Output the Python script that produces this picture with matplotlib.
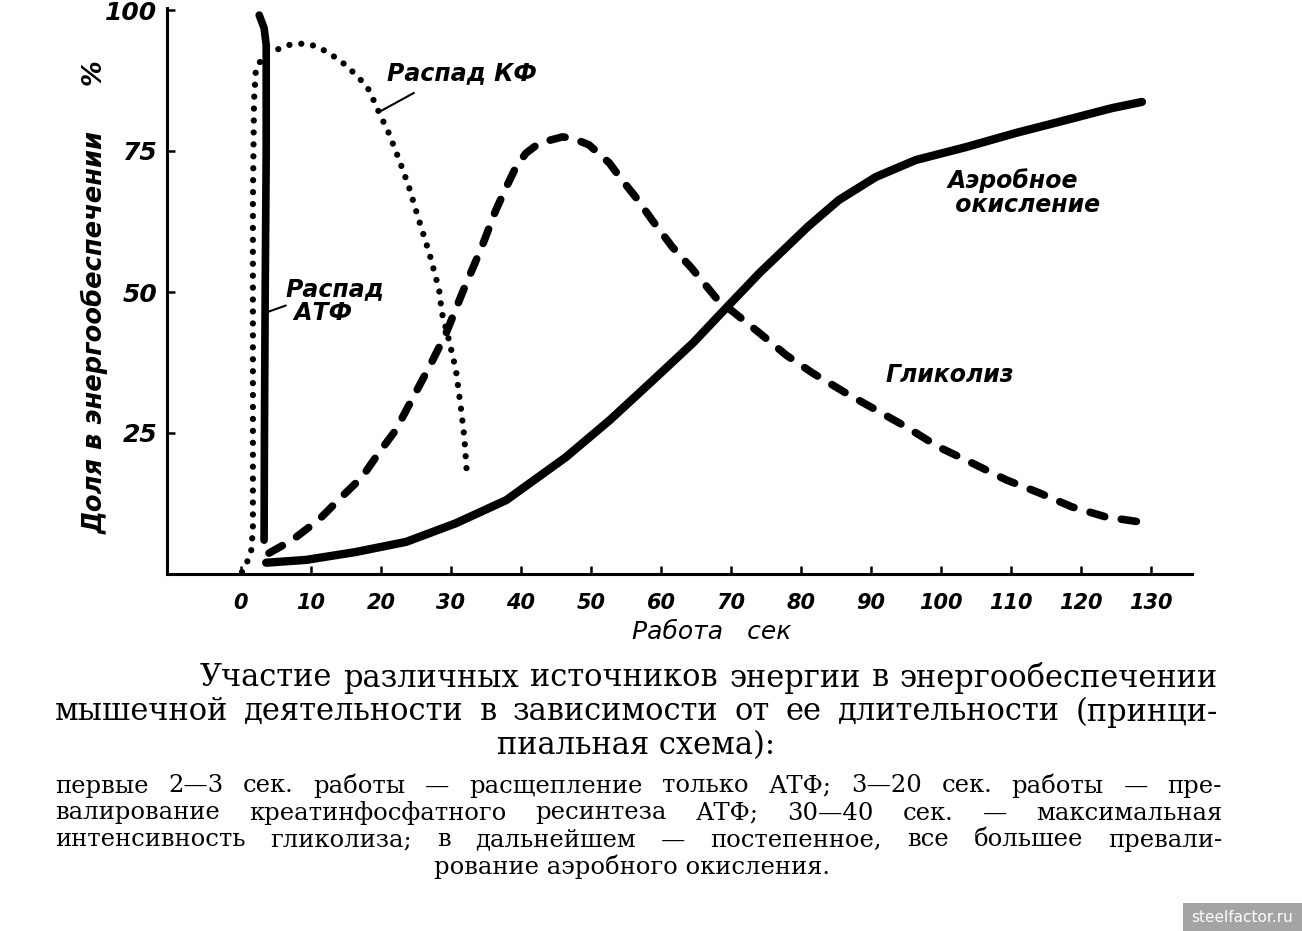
import matplotlib
matplotlib.use("Agg")
import matplotlib.pyplot as plt
from matplotlib.patches import Rectangle

plt.rcParams['font.family'] = ['DejaVu Sans']

# Axis ticks
time_ticks = list(range(0, 140, 10))
share_ticks = [25, 50, 75, 100]

# Распад АТФ (solid, thick, near-vertical)
atp_x = [2.6, 3.3, 3.6, 3.6, 3.45, 3.35, 3.3]
atp_y = [99.1, 96.8, 93.8, 75.2, 48.6, 25.0, 6.0]

# Распад КФ (dotted)
kf_x = [0.14, 0.86, 1.43, 1.7, 1.7, 1.7, 1.86, 2.14, 3.57, 5.0, 6.86, 9.29,
        11.1, 13.0, 15.0, 16.9, 18.3, 19.7, 21.1, 22.6, 24.0, 25.4, 26.9,
        28.3, 28.7, 29.7, 30.7, 31.4, 31.9, 32.3]
kf_y = [0.35, 2.1, 3.7, 7.8, 30.9, 66.3, 84.0, 89.7, 92.4, 92.9, 93.8, 94.1,
        93.4, 92.0, 90.2, 87.9, 85.8, 81.9, 78.2, 73.4, 68.6, 62.8, 56.9,
        50.4, 46.3, 41.5, 36.2, 29.6, 24.3, 17.2]

# Гликолиз (dashed)
glyc_x = [4.0, 7.3, 11.1, 14.4, 17.3, 19.7, 22.1, 24.4, 26.9, 29.3, 31.6,
          33.0, 34.4, 36.4, 37.9, 39.3, 40.7, 42.6, 45.9, 47.3, 49.7, 52.6,
          54.4, 56.4, 58.7, 61.6, 64.4, 68.1, 70.5, 74.1, 77.9, 81.7, 86.4,
          90.7, 95.0, 99.7, 104.4, 109.3, 114.0, 118.7, 123.6, 129.7]
glyc_y = [3.7, 6.0, 9.6, 13.7, 17.2, 21.5, 25.5, 30.9, 36.7, 42.7, 49.8,
          53.9, 58.0, 64.5, 68.6, 72.2, 74.6, 76.4, 77.5, 77.3, 76.1, 72.9,
          69.9, 66.8, 62.8, 58.0, 54.2, 48.6, 46.3, 42.7, 38.8, 35.6, 32.1,
          29.1, 26.1, 22.5, 19.7, 16.7, 14.4, 11.9, 10.1, 9.0]

# Аэробное окисление (solid)
aer_x = [3.6, 9.3, 16.4, 23.6, 30.7, 37.9, 46.4, 52.7, 58.9, 64.6, 69.4,
         74.1, 81.0, 85.4, 90.7, 96.4, 103.6, 110.7, 117.9, 124.4, 128.7]
aer_y = [2.0, 2.5, 3.9, 5.7, 9.0, 13.1, 20.7, 27.3, 34.4, 41.0, 47.3,
         53.4, 61.6, 66.3, 70.4, 73.4, 75.7, 78.2, 80.5, 82.6, 83.7]

caption_main = [
    "Участие различных источников энергии в энергообеспечении",
    "мышечной деятельности в зависимости от ее длительности (принци-",
    "пиальная схема):",
]
caption_small = [
    "первые 2—3 сек. работы — расщепление только АТФ; 3—20 сек. работы — пре-",
    "валирование креатинфосфатного ресинтеза АТФ; 30—40 сек. — максимальная",
    "интенсивность гликолиза; в дальнейшем — постепенное, все большее превали-",
    "рование аэробного окисления.",
]

W, H = 1302, 931
fig = plt.figure(figsize=(W / 100, H / 100), dpi=100)


def fx(px):
    return px / W


def fy(py):
    return 1 - py / H


ax = fig.add_axes([fx(167), fy(574), fx(1192) - fx(167), fy(0) - fy(574)])
ax.set_xlim((167 - 241) / 7, (1192 - 241) / 7)
ax.set_ylim(0, 574 / 5.64)

for side in ["top", "right"]:
    ax.spines[side].set_visible(False)
for side in ["left", "bottom"]:
    ax.spines[side].set_linewidth(2.2)
ax.spines["left"].set_bounds(0, 100.4)

num_font = dict(fontweight="bold", fontstyle="italic")
ax.set_xticks(time_ticks)
ax.set_xticklabels([str(t) for t in time_ticks], fontsize=15, **num_font)
ax.set_yticks(share_ticks)
ax.set_yticklabels([str(t) for t in share_ticks], fontsize=18, **num_font)
ax.tick_params(axis="x", direction="in", length=6, width=1.8, pad=14)
ax.tick_params(axis="y", direction="in", length=6, width=1.8, pad=7)

# curves
ax.plot(kf_x, kf_y, color="black", lw=4.5, linestyle=(0, (0.01, 1.9)),
        dash_capstyle="round", zorder=2)
ax.plot(glyc_x, glyc_y, color="black", lw=5.5, linestyle=(0, (2.0, 2.2)),
        dash_capstyle="round", zorder=2)
ax.plot(aer_x, aer_y, color="black", lw=6, solid_capstyle="round", zorder=3)
ax.plot(atp_x, atp_y, color="black", lw=5.5, solid_capstyle="round", zorder=4)

# curve labels
lab_font = dict(fontsize=17, fontweight="bold", fontstyle="italic")
ax.text(20.9, 88.8, "Распад КФ", ha="left", va="center", **lab_font)
ax.annotate("", xy=(kf_x[17], kf_y[17]), xytext=(24.7, 85.3),
            arrowprops=dict(arrowstyle="-", lw=1.5, color="black",
                            shrinkA=0, shrinkB=0))
ax.text(6.4, 48.4, "Распад\n АТФ", ha="left", va="center",
        linespacing=0.95, **lab_font)
ax.annotate("", xy=(3.9, 46.5), xytext=(6.4, 47.6),
            arrowprops=dict(arrowstyle="-", lw=1.5, color="black",
                            shrinkA=0, shrinkB=0))
ax.text(100.9, 67.7, "Аэробное\n окисление", ha="left", va="center",
        linespacing=1.0, **lab_font)
ax.text(92.1, 35.3, "Гликолиз", ha="left", va="center", **lab_font)

# axis titles
fig.text(fx(95), fy(297), "Доля в энергообеспечении     %", rotation=90,
         ha="center", va="center", fontsize=18.5, **num_font)
fig.text(fx(712), fy(632), "Работа   сек", ha="center", va="center",
         fontsize=18, fontstyle="italic")

# captions
renderer = fig.canvas.get_renderer()


def justify(line, x0, x1, y, **kw):
    words = line.split()
    texts = [fig.text(0, fy(y), w, va="center", **kw) for w in words]
    widths = [t.get_window_extent(renderer).width for t in texts]
    gap = (x1 - x0 - sum(widths)) / max(len(words) - 1, 1)
    x = x0
    for t, w in zip(texts, widths):
        t.set_x(fx(x))
        x += w + gap


serif = dict(family="DejaVu Serif")
justify(caption_main[0], 200, 1218, 678, fontsize=22, **serif)
justify(caption_main[1], 55, 1218, 712, fontsize=22, **serif)
fig.text(fx(636), fy(746), caption_main[2], ha="center", va="center",
         fontsize=22, **serif)
justify(caption_small[0], 55, 1222, 786, fontsize=17.5, **serif)
justify(caption_small[1], 55, 1222, 813, fontsize=17.5, **serif)
justify(caption_small[2], 55, 1222, 840, fontsize=17.5, **serif)
fig.text(fx(632), fy(867), caption_small[3], ha="center", va="center",
         fontsize=17.5, **serif)

# watermark
fig.patches.append(Rectangle((fx(1183), fy(931)), fx(1302) - fx(1183),
                             fy(903) - fy(931), transform=fig.transFigure,
                             facecolor="#a4a4a4", edgecolor="none"))
fig.text(fx(1242), fy(917), "steelfactor.ru", ha="center", va="center",
         color="white", fontsize=11, family="Liberation Sans Narrow")

fig.savefig("out.png", dpi=100)
